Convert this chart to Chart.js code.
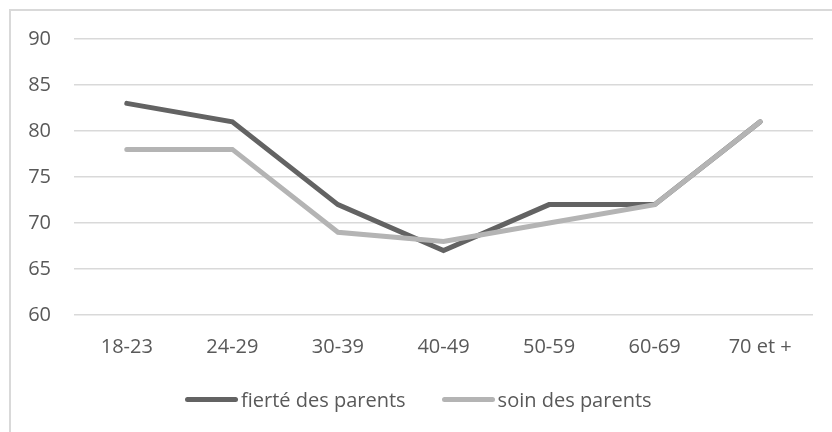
<!DOCTYPE html>
<html>
<head>
<meta charset="utf-8">
<script src="https://cdn.jsdelivr.net/npm/chart.js@4/dist/chart.umd.min.js"></script>
<style>
  html, body { margin: 0; padding: 0; background: #fff; overflow: hidden; }
  #wrap { position: relative; width: 832px; height: 432px; }
  #frame {
    position: absolute; left: 9px; top: 9px; width: 900px; height: 500px;
    border-left: 2px solid #d9d9d9; border-top: 2px solid #d9d9d9;
  }
  #chart { position: absolute; left: 0; top: 0; }
  #legend {
    position: absolute; left: 185px; top: 386px; display: flex; align-items: center;
    font-family: "Open Sans", sans-serif; font-size: 20px; color: #595959;
  }
  .item { display: flex; align-items: center; }
  .swatch { width: 53px; height: 5px; border-radius: 3px; margin-right: 3px; }
</style>
</head>
<body>
<div id="wrap">
  <div id="frame"></div>
  <canvas id="chart" width="832" height="432"></canvas>
  <div id="legend"></div>
</div>
<script>
const categories = ["18-23", "24-29", "30-39", "40-49", "50-59", "60-69", "70 et +"];
const fierte = [83, 81, 72, 67, 72, 72, 81];
const soin = [78, 78, 69, 68, 70, 72, 81];
const yTicks = [60, 65, 70, 75, 80, 85, 90];

const darkGrey = "#636363";
const lightGrey = "#b4b4b4";

const series = [
  { label: "fierté des parents", data: fierte, color: darkGrey, order: 1 },
  { label: "soin des parents", data: soin, color: lightGrey, order: 0 },
];

const ctx = document.getElementById("chart").getContext("2d");

let configuration = {
  type: "line",
  data: {
    labels: categories,
    datasets: series.map((s) => ({
      label: s.label,
      data: s.data,
      borderColor: s.color,
      backgroundColor: s.color,
      borderWidth: 5,
      borderCapStyle: "round",
      pointRadius: 0,
      tension: 0,
      order: s.order,
    })),
  },
  options: {
    responsive: false,
    animation: false,
    layout: { padding: { top: 39, right: 19, left: 0, bottom: 0 } },
    plugins: {
      legend: { display: false },
      tooltip: { enabled: false },
    },
    scales: {
      x: {
        offset: true,
        grid: { display: false, offset: true },
        border: { display: false },
        ticks: {
          color: "#595959",
          font: { family: "Open Sans", size: 20 },
          padding: 12,
          maxRotation: 0,
        },
        afterFit: (scale) => { scale.height = 117; },
      },
      y: {
        min: 60,
        max: 90,
        afterBuildTicks: (scale) => { scale.ticks = yTicks.map((v) => ({ value: v })); },
        grid: { color: "#d9d9d9", lineWidth: 1.5, drawTicks: false },
        border: { display: false },
        ticks: {
          color: "#595959",
          font: { family: "Open Sans", size: 20 },
          padding: 23,
        },
        afterFit: (scale) => { scale.width = 74; },
      },
    },
  },
};

new Chart(ctx, configuration);

// legend
const legend = document.getElementById("legend");
series.forEach((s, i) => {
  const item = document.createElement("div");
  item.className = "item";
  if (i > 0) item.style.marginLeft = "36px";
  const sw = document.createElement("span");
  sw.className = "swatch";
  sw.style.background = s.color;
  const txt = document.createElement("span");
  txt.textContent = s.label;
  item.appendChild(sw);
  item.appendChild(txt);
  legend.appendChild(item);
});
</script>
</body>
</html>
